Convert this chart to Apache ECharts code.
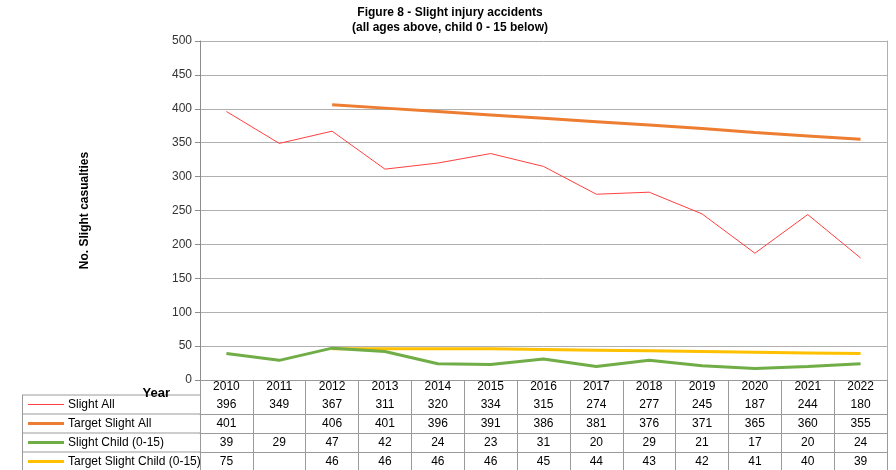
<!DOCTYPE html>
<html><head><meta charset="utf-8">
<script src="https://cdn.jsdelivr.net/npm/echarts@6/dist/echarts.min.js"></script>
<style>html,body{margin:0;padding:0;background:#fff}#c{width:896px;height:470px}</style>
</head><body><div id="c"></div>
<script>
var years = ['2010','2011','2012','2013','2014','2015','2016','2017','2018','2019','2020','2021','2022'];
var slightAll = [396,349,367,311,320,334,315,274,277,245,187,244,180];
var targetSlightAll = [401,null,406,401,396,391,386,381,376,371,365,360,355];
var slightChild = [39,29,47,42,24,23,31,20,29,21,17,20,24];
var targetSlightChild = [75,null,46,46,46,46,45,44,43,42,41,40,39];
var seriesNames = ['Slight All','Target Slight All','Slight Child (0-15)','Target Slight Child (0-15)'];
var yTicks = {min:0, max:500, interval:50};

var colors = ['#FF4040','#ED7D31','#70AD47','#FFC000'];
var widths = [1,3,3,3];
var seriesData = [slightAll,targetSlightAll,slightChild,targetSlightChild];

var FONT = 'Liberation Sans, Arial, sans-serif';
var gridLeft = 200, gridTop = 41, gridBottomY = 380;
var rowOffsets = [15,34,53,72];
var tableLine = '#9a9a9a';

function rowAxis(vals, off){
  return {
    type:'category', gridIndex:0, position:'bottom', offset:off,
    data: vals.map(function(v){return v==null?'':String(v);}),
    axisLine:{show:true, lineStyle:{color:tableLine,width:1}},
    axisTick:{show:false},
    axisLabel:{interval:0, margin:4, fontSize:12, fontFamily:FONT, color:'#000'},
    splitLine:{show:false}
  };
}

var xAxes = [{
  type:'category', data:years, boundaryGap:true,
  axisLine:{show:true, lineStyle:{color:tableLine,width:1}},
  axisTick:{show:true, length:92, alignWithLabel:false, lineStyle:{color:tableLine,width:1}},
  axisLabel:{interval:0, margin:1, fontSize:12, fontFamily:FONT, color:'#000'},
  splitLine:{show:false}
}];
seriesData.forEach(function(d,i){ xAxes.push(rowAxis(d, rowOffsets[i])); });

var graphics = [];
var rowTops = [395,414,433,452,471];
for (var i=0;i<4;i++){
  graphics.push({type:'line', shape:{x1:22,y1:rowTops[i],x2:gridLeft,y2:rowTops[i]}, style:{stroke:tableLine,lineWidth:1}});
  var cy = (rowTops[i]+rowTops[i+1])/2;
  graphics.push({type:'line', shape:{x1:28,y1:cy,x2:64,y2:cy}, style:{stroke:colors[i],lineWidth:widths[i]}});
  graphics.push({type:'text', x:68, y:cy, style:{text:seriesNames[i], font:'12px '+FONT, fill:'#000', textVerticalAlign:'middle', verticalAlign:'middle'}});
}
graphics.push({type:'line', shape:{x1:22.5,y1:395,x2:22.5,y2:470}, style:{stroke:tableLine,lineWidth:1}});
graphics.push({type:'text', x:170, y:393, style:{text:'Year', font:'bold 13px '+FONT, fill:'#000', align:'right', textAlign:'right', verticalAlign:'middle', textVerticalAlign:'middle'}});

var option = {
  animation:false,
  backgroundColor:'#fff',
  title:{
    text:'Figure 8 - Slight injury accidents\n(all ages above, child 0 - 15 below)',
    left:445, textAlign:'center', top:0,
    textStyle:{fontFamily:FONT, fontWeight:'bold', fontSize:12, lineHeight:15, color:'#000'}
  },
  grid:{left:gridLeft, right:9, top:gridTop, bottom:470-gridBottomY, containLabel:false},
  xAxis:xAxes,
  yAxis:[{
    type:'value', min:yTicks.min, max:yTicks.max, interval:yTicks.interval,
    name:'No. Slight casualties', nameLocation:'middle', nameGap:109, nameRotate:90,
    nameTextStyle:{fontFamily:FONT, fontWeight:'bold', fontSize:12, color:'#000'},
    axisLine:{show:true, lineStyle:{color:'#8c8c8c'}},
    axisTick:{show:true, length:5, lineStyle:{color:'#8c8c8c'}},
    axisLabel:{fontSize:12, fontFamily:FONT, color:'#333', margin:8},
    splitLine:{show:true, lineStyle:{color:'#b0b0b0', width:1}}
  },{
    type:'value', position:'right', min:0, max:500,
    axisLine:{show:true, lineStyle:{color:'#b0b0b0'}},
    axisTick:{show:false}, axisLabel:{show:false}, splitLine:{show:false}
  }],
  graphic:graphics,
  series: seriesData.map(function(d,i){
    return {
      name:seriesNames[i], type:'line', data:d, xAxisIndex:0, yAxisIndex:0,
      showSymbol:false, symbol:'none', connectNulls:false,
      lineStyle:{color:colors[i], width:widths[i]}, itemStyle:{color:colors[i]},
      z: i===0?5:(i===1?4:(i===2?3:2))
    };
  })
};
var chart = echarts.init(document.getElementById('c'), null, {renderer:'canvas'});
chart.setOption(option);
</script></body></html>
